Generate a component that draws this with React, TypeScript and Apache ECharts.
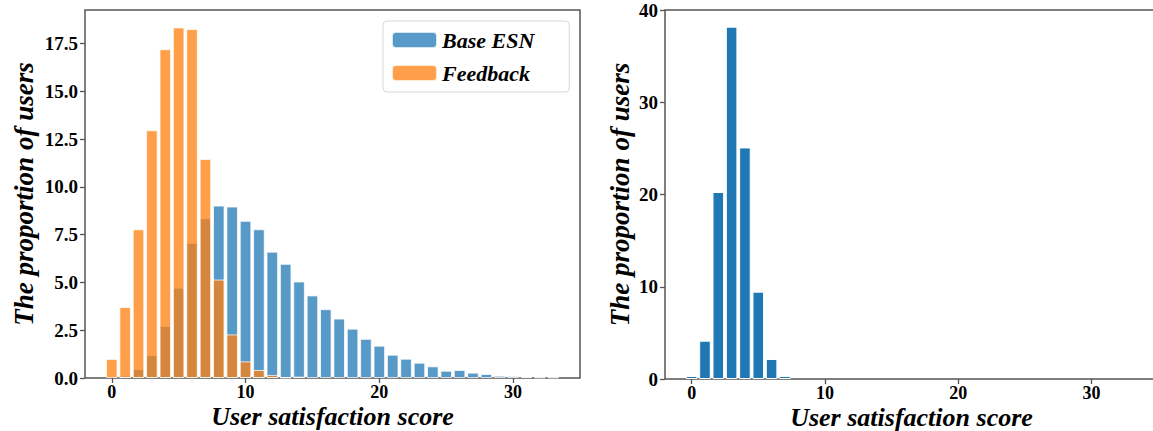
import { useEffect, useRef } from "react";
import * as echarts from "echarts";

// Share of users (%) per integer satisfaction score, starting at score 0
const baseEsn = [0, 0.12, 0.47, 1.2, 2.72, 4.72, 7.07, 8.36, 9.02, 8.97, 8.22, 7.78, 6.61, 5.97, 5.05, 4.32, 3.6, 3.11, 2.58, 2.05, 1.69, 1.22, 1.01, 0.8, 0.61, 0.38, 0.42, 0.28, 0.21, 0.12, 0.1, 0.05, 0.03, 0.03];
const feedback = [1.0, 3.71, 7.78, 12.96, 17.2, 18.34, 18.25, 11.46, 5.15, 2.28, 0.87, 0.42, 0.16, 0.03, 0.07];
const rightScores = [0.33, 4.15, 20.27, 38.19, 25.1, 9.47, 2.17, 0.33];

const seriesNames = ["Base ESN", "Feedback"];
const xTicks = [0, 10, 20, 30];
const leftYTicks = [0, 2.5, 5, 7.5, 10, 12.5, 15, 17.5];
const rightYTicks = [0, 10, 20, 30, 40];

const toPoints = (values: number[]) =>
  values.map((v, i) => [i, v]).filter((p) => p[1] > 0);

const FONT = "'Liberation Serif', 'Times New Roman', serif";
const AXIS = "#555";
const BLUE = "#1f77b4";
const ORANGE = "#ff7f0e";

const tickLabel = { fontFamily: FONT, fontWeight: "bold", fontSize: 19, color: "#000" };
const titleText = { fontFamily: FONT, fontWeight: "bold", fontStyle: "italic", fontSize: 27, color: "#000" };

const gridBox = {
  show: true,
  borderColor: AXIS,
  borderWidth: 1.5,
  backgroundColor: "transparent",
  outerBoundsMode: "none",
  containLabel: false,
};

function xAxis(gridIndex: number) {
  return {
    type: "value",
    gridIndex,
    min: -2,
    max: 35,
    axisLine: { show: false, onZero: false },
    splitLine: { show: false },
    axisTick: { show: true, length: 5, lineStyle: { color: AXIS, width: 1.3 }, customValues: xTicks },
    axisLabel: { ...tickLabel, fontSize: 18, lineHeight: 15, margin: 6.5, customValues: xTicks },
    name: "User satisfaction score",
    nameLocation: "middle",
    nameGap: 26,
    nameMoveOverlap: false,
    nameTextStyle: { ...titleText, fontSize: 26, lineHeight: 24 },
  };
}

function yAxis(gridIndex: number, max: number, ticks: number[], nameGap: number, digits: number) {
  return {
    type: "value",
    gridIndex,
    min: 0,
    max,
    axisLine: { show: false, onZero: false },
    splitLine: { show: false },
    axisTick: { show: true, length: 5, lineStyle: { color: AXIS, width: 1.3 }, customValues: ticks },
    axisLabel: {
      ...tickLabel,
      margin: 7,
      customValues: ticks,
      formatter: (v: number) => v.toFixed(digits),
    },
    name: "The proportion of users",
    nameLocation: "middle",
    nameGap,
    nameMoveOverlap: false,
    nameTextStyle: titleText,
  };
}

export default function App() {
  const ref = useRef<HTMLDivElement>(null);

  useEffect(() => {
    if (!ref.current) return;
    const chart = echarts.init(ref.current, undefined, { renderer: "svg" });
    chart.setOption({
      animation: false,
      grid: [
        { ...gridBox, left: 85, top: 10, width: 495, height: 368 },
        { ...gridBox, left: 665, top: 10, width: 493, height: 369 },
      ],
      xAxis: [xAxis(0), xAxis(1)],
      yAxis: [yAxis(0, 19.25, leftYTicks, 48, 1), yAxis(1, 40, rightYTicks, 32, 0)],
      legend: {
        orient: "vertical",
        left: 383,
        top: 21,
        padding: [8, 35, 8, 8],
        itemWidth: 45,
        itemHeight: 16,
        itemGap: 11,
        borderColor: "#d9d9d9",
        borderWidth: 1,
        borderRadius: 4,
        backgroundColor: "rgba(255,255,255,0.8)",
        textStyle: { fontFamily: FONT, fontWeight: "bold", fontStyle: "italic", fontSize: 22, color: "#000" },
        data: seriesNames,
      },
      series: [
        {
          name: seriesNames[0],
          type: "bar",
          xAxisIndex: 0,
          yAxisIndex: 0,
          barWidth: 11.6,
          barGap: "-100%",
          itemStyle: { color: BLUE, opacity: 0.75, borderColor: "#fff", borderWidth: 1 },
          data: toPoints(baseEsn),
        },
        {
          name: seriesNames[1],
          type: "bar",
          xAxisIndex: 0,
          yAxisIndex: 0,
          barWidth: 11.6,
          barGap: "-100%",
          itemStyle: { color: ORANGE, opacity: 0.75, borderColor: "#fff", borderWidth: 1 },
          data: toPoints(feedback),
        },
        {
          name: "single",
          type: "bar",
          xAxisIndex: 1,
          yAxisIndex: 1,
          barWidth: 11.6,
          itemStyle: { color: BLUE, borderColor: "#fff", borderWidth: 1 },
          data: toPoints(rightScores),
        },
      ],
    });
    return () => chart.dispose();
  }, []);

  return (
    <div
      ref={ref}
      style={{ position: "fixed", left: 0, top: 0, width: 1153, height: 431, background: "#fff" }}
    />
  );
}
